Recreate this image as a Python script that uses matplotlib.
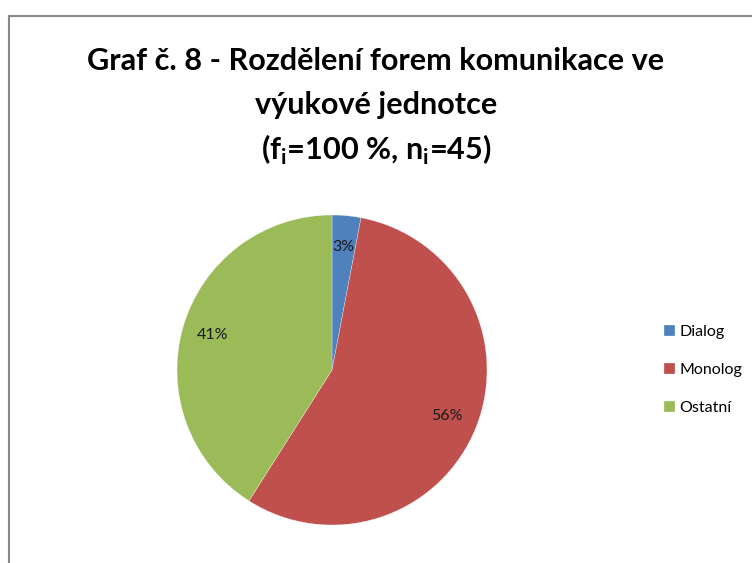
import matplotlib.pyplot as plt
from matplotlib.patches import Rectangle

# Data
categories = ['Dialog', 'Monolog', 'Ostatní']
values = [3, 56, 41]
colors = ['#4F81BD', '#C0504D', '#9BBB59']

title_lines = ['Graf č. 8 - Rozdělení forem komunikace ve',
               'výukové jednotce',
               r'(f$_\mathregular{i}$=100 %, n$_\mathregular{i}$=45)']

fig = plt.figure(figsize=(7.52, 5.63), dpi=100)
fig.patch.set_facecolor('white')

# frame around the chart area (cut by the image edge on the right and bottom)
fig.patches.append(Rectangle((9 / 752, -0.1), 1.2, 1.1 - 16 / 563,
                             transform=fig.transFigure, fill=False,
                             edgecolor='#898989', linewidth=1.5))

title_font = ['Lato', 'DejaVu Sans']
fig.text(0.5, 1 - 70 / 563, title_lines[0], ha='center', va='baseline',
         fontsize=22.1, fontweight='bold', family=title_font)
fig.text(0.5, 1 - 114 / 563, title_lines[1], ha='center', va='baseline',
         fontsize=22.1, fontweight='bold', family=title_font)
fig.text(0.5, 1 - 160 / 563, title_lines[2], ha='center', va='baseline',
         fontsize=22.1, fontweight='bold', family=title_font)

ax = fig.add_axes([(332 - 155) / 752, (563 - 525) / 563, 310 / 752, 310 / 563])
wedges, texts, autotexts = ax.pie(values, colors=colors, startangle=90,
                                  counterclock=False, autopct='%1.0f%%',
                                  pctdistance=0.8,
                                  wedgeprops=dict(edgecolor='white', linewidth=0.2),
                                  textprops=dict(fontsize=11.5, family=['Lato', 'DejaVu Sans'],
                                                 color='#1a1a1a'))
ax.set_xlim(-1.0, 1.0)
ax.set_ylim(-1.0, 1.0)
ax.set_aspect('equal')

leg = fig.legend(wedges, categories, loc='center left',
                 bbox_to_anchor=(664 / 752, 1 - 370 / 563), frameon=False,
                 borderaxespad=0, borderpad=0,
                 prop=dict(family=['Lato', 'DejaVu Sans'], size=11.5),
                 handlelength=0.7, handleheight=0.7, handletextpad=0.25,
                 labelspacing=1.5)

fig.savefig('out.png', dpi=100)
